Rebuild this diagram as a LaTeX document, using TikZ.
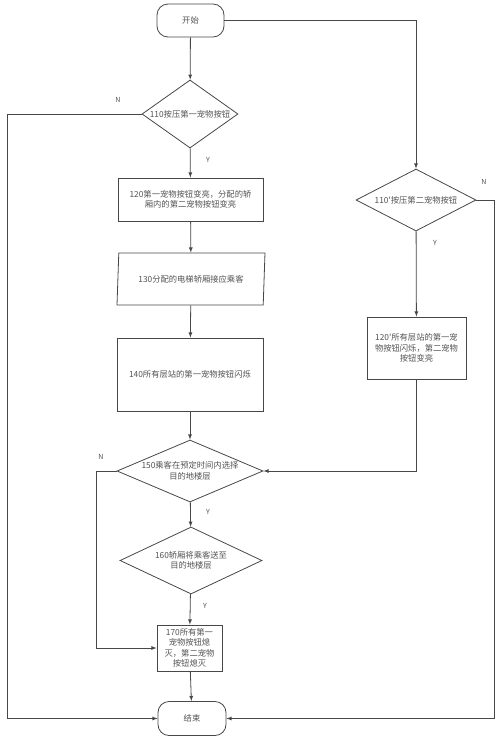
\documentclass[tikz,border=0pt]{standalone}
\usepackage{fontspec}
\newfontfamily\cjk{Noto Sans CJK SC}
\usepackage{tikz}
\usetikzlibrary{shapes.misc,shapes.geometric}
\colorlet{linecolor}{black!72}
\colorlet{textcolor}{black!68}
\tikzset{flowchart/.style = {draw=linecolor, line width=0.8pt, text=textcolor, align=center, inner sep=0pt}}
\tikzset{terminal/.style = {flowchart, rectangle, rounded corners=11pt, minimum width=67pt, minimum height=33pt}}
\tikzset{process/.style = {flowchart, rectangle}}
\tikzset{decision/.style = {flowchart, diamond}}
\tikzset{io/.style = {flowchart, trapezium, trapezium left angle=77, trapezium right angle=103, trapezium stretches body, minimum width=148pt, minimum height=52pt}}
\tikzset{arrow/.style={line width=0.8pt, draw=linecolor, -latex}}
\tikzset{branch/.style={text=textcolor, font=\cjk\fontsize{7}{8}\selectfont}}

\begin{document}
\begin{tikzpicture}[x=1pt,y=-1pt,font=\cjk\fontsize{8.3}{10.5}\selectfont]
\useasboundingbox (0,0) rectangle (500,740);

\node[terminal] (start) at (190.5,20.5) {开始};
\node[decision, minimum width=96pt, minimum height=68pt, label={[text=textcolor]center:110按压第一宠物按钮}] (d110) at (190,114) {};
\node[process, minimum width=145pt, minimum height=43pt] (r120) at (190.5,199.5) {120第一宠物按钮变亮，分配的轿\\厢内的第二宠物按钮变亮};
\node[io] (p130) at (191,279) {130分配的电梯轿厢接应乘客};
\node[process, minimum width=146pt, minimum height=73pt] (r140) at (190,374.5) {140所有层站的第一宠物按钮闪烁};
\node[decision, minimum width=146pt, minimum height=62pt, label={[text=textcolor,align=center]center:150乘客在预定时间内选择\\目的地楼层}] (d150) at (190,471) {};
\node[decision, minimum width=142pt, minimum height=67pt, label={[text=textcolor,align=center]center:160轿厢将乘客送至\\目的地楼层}] (d160) at (191,560.5) {};
\node[process, minimum width=65pt, minimum height=46pt] (r170) at (189.5,648) {170所有第一\\宠物按钮熄\\灭，第二宠物\\按钮熄灭};
\node[terminal, minimum width=68pt, minimum height=34pt] (end) at (192,718.5) {结束};

\node[decision, minimum width=120pt, minimum height=62pt, label={[text=textcolor]center:110'按压第二宠物按钮}] (d110b) at (416,200) {};
\node[process, minimum width=99pt, minimum height=62pt] (r120b) at (416.5,348) {120'所有层站的第一宠\\物按钮闪烁，第二宠物\\按钮变亮};

\node[branch] (n110) at (118,100) {N};
\node[branch] (y110) at (208,160) {Y};
\node[branch] (n110b) at (484,182) {N};
\node[branch] (y110b) at (435,243) {Y};
\node[branch] (n150) at (101,457) {N};
\node[branch] (y150) at (208,512) {Y};
\node[branch] (y160) at (205,606) {Y};

\draw[arrow] (start) -- (d110);
\draw[arrow] (d110) -- (r120);
\draw[arrow] (r120) -- (p130);
\draw[arrow] (p130) -- (r140);
\draw[arrow] (r140) -- (d150);
\draw[arrow] (d150) -- (d160);
\draw[arrow] (d160) -- (r170);
\draw[arrow] (r170) -- (end);

\draw[arrow] (start.east) -| (d110b.north);
\draw[arrow] (d110b) -- (r120b);
\draw[arrow] (r120b.south) |- (d150.east);

\draw[arrow] (d110.west) -- ++(-134,0) |- (end.west);
\draw[arrow] (d110b.east) -- ++(18,0) |- (end.east);
\draw[arrow] (d150.west) -- ++(-20,0) |- (r170.west);
\end{tikzpicture}
\end{document}
